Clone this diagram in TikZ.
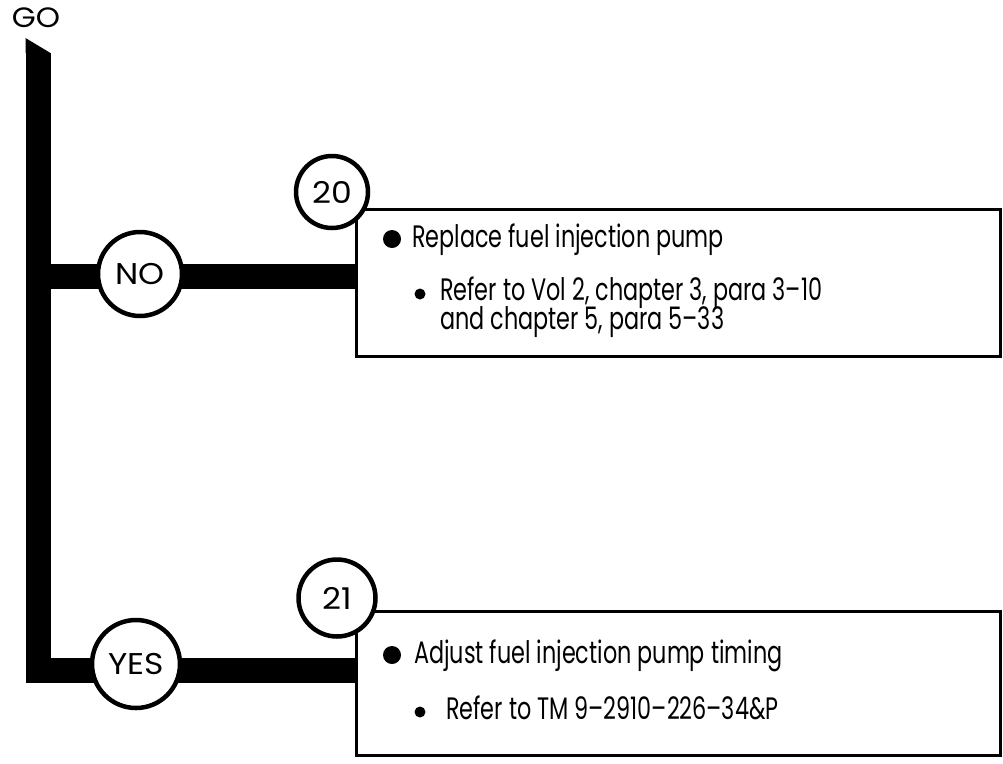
\documentclass[tikz,border=0pt]{standalone}
\usepackage{fontspec}
\setmainfont{Poppins}[FakeStretch=0.72]
\newfontfamily\labfont{Poppins}[FakeStretch=1.1]
\begin{document}
\begin{tikzpicture}[x=1pt,y=-1pt,
  bar/.style={line width=25pt, line join=miter, line cap=butt},
  num/.style={circle, draw, line width=4.5pt, fill=white, inner sep=0pt, font=\labfont\fontsize{30}{34}\selectfont},
  stepbox/.style={draw, line width=3pt, fill=white, anchor=north west, inner sep=0pt},
  txt/.style={anchor=base west, inner sep=0pt, font=\fontsize{31}{35}\selectfont},
  bigdot/.style={fill, circle, inner sep=0pt, minimum size=18pt},
  smalldot/.style={fill, circle, inner sep=0pt, minimum size=11pt}]
\useasboundingbox (0,0) rectangle (1003,763);

% boxes
\node[stepbox, minimum width=644pt, minimum height=147pt] (b20) at (355,208) {};
\node[stepbox, minimum width=644pt, minimum height=144pt] (b21) at (355,610) {};

% trunk and branches
\coordinate (top) at (38,53);
\coordinate (corner) at (38,670);
\coordinate (nojoin) at (38,276);
\fill (25.5,38) -- (50.5,53) -- (25.5,53) -- cycle;
\draw[bar] (top) -- (corner) -- (corner -| b21.west);
\draw[bar] (nojoin) -- (nojoin -| b20.west);

% GO
\node[font=\labfont\fontsize{28}{30}\selectfont, inner sep=0pt] (go) at (36,18) {GO};

% decision circles
\node[num, minimum size=84pt] (no) at (140,274) {NO};
\node[num, minimum size=88pt] (yes) at (136,664) {YES};
\node[num, minimum size=72pt] (n20) at (332,192) {20};
\node[num, minimum size=77pt] (n21) at (337,598) {21};

% box 20 text
\node[bigdot] (d20) at (392,239) {};
\node[txt] (t20) at (412,247) {Replace fuel injection pump};
\node[smalldot] (s20) at (420,294) {};
\node[txt] (r20a) at (440,300) {Refer to Vol 2, chapter 3, para 3--10};
\node[txt] (r20b) at (440,329) {and chapter 5, para 5--33};

% box 21 text
\node[bigdot] (d21) at (392,655) {};
\node[txt] (t21) at (414,663) {Adjust fuel injection pump timing};
\node[smalldot] (s21) at (420,712) {};
\node[txt] (r21) at (446,719) {Refer to TM 9--2910--226--34\&P};
\end{tikzpicture}
\end{document}
